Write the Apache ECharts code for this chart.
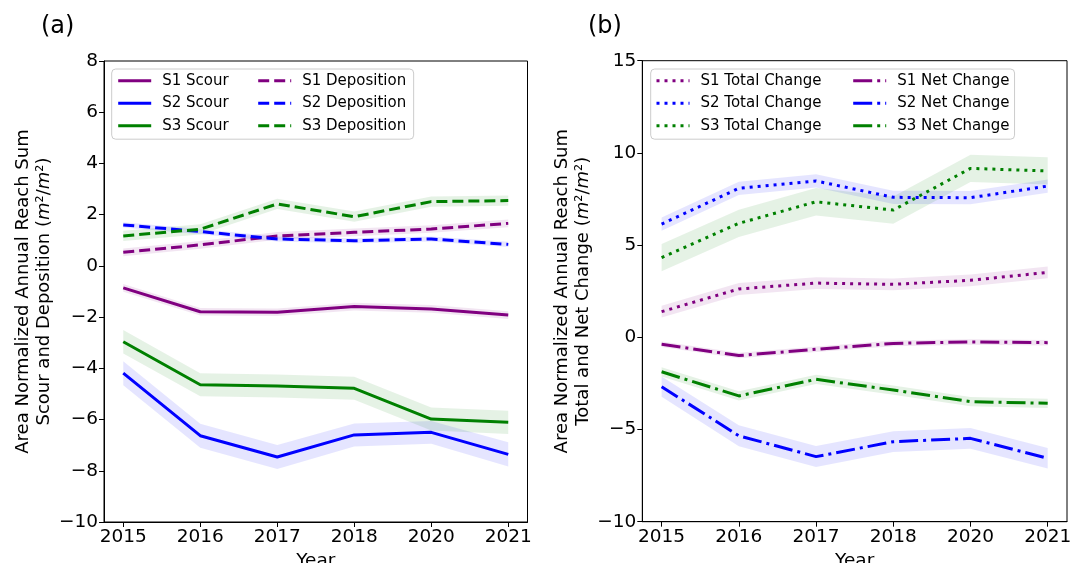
<!DOCTYPE html>
<html>
<head>
<meta charset="utf-8">
<script src="https://cdn.jsdelivr.net/npm/echarts@6/dist/echarts.min.js"></script>
<style>html,body{margin:0;padding:0;background:#fff;}#c{width:1070px;height:563px;}</style>
</head>
<body>
<div id="c"></div>
<script>
// ---- data ----
var years = ['2015', '2016', '2017', '2018', '2020', '2021'];

// panel (a): scour and deposition
var s1Scour = [-0.86, -1.79, -1.81, -1.59, -1.68, -1.92];
var s1ScourErr = [0.15, 0.15, 0.15, 0.15, 0.15, 0.15];
var s2Scour = [-4.19, -6.63, -7.46, -6.60, -6.50, -7.36];
var s2ScourErr = [0.47, 0.47, 0.47, 0.45, 0.44, 0.47];
var s3Scour = [-2.96, -4.64, -4.69, -4.78, -5.98, -6.11];
var s3ScourErr = [0.46, 0.45, 0.45, 0.45, 0.45, 0.45];
var s1Dep = [0.53, 0.82, 1.17, 1.31, 1.44, 1.66];
var s1DepErr = [0.15, 0.15, 0.15, 0.15, 0.15, 0.15];
var s2Dep = [1.60, 1.34, 1.05, 0.98, 1.05, 0.84];
var s2DepErr = [0.10, 0.10, 0.10, 0.10, 0.10, 0.10];
var s3Dep = [1.17, 1.43, 2.42, 1.92, 2.51, 2.55];
var s3DepErr = [0.20, 0.20, 0.20, 0.20, 0.20, 0.20];

// panel (b): total and net change
var s1Total = [1.39, 2.62, 2.94, 2.87, 3.09, 3.52];
var s1TotalErr = [0.32, 0.32, 0.32, 0.32, 0.32, 0.32];
var s2Total = [6.14, 8.08, 8.48, 7.59, 7.57, 8.20];
var s2TotalErr = [0.36, 0.36, 0.36, 0.36, 0.36, 0.36];
var s3Total = [4.32, 6.18, 7.35, 6.90, 9.16, 9.02];
var s3TotalErr = [0.74, 0.74, 0.74, 0.74, 0.74, 0.74];
var s1Net = [-0.38, -0.99, -0.65, -0.33, -0.25, -0.29];
var s1NetErr = [0.15, 0.15, 0.15, 0.15, 0.15, 0.15];
var s2Net = [-2.68, -5.34, -6.47, -5.66, -5.48, -6.56];
var s2NetErr = [0.55, 0.57, 0.57, 0.56, 0.56, 0.56];
var s3Net = [-1.87, -3.18, -2.28, -2.86, -3.49, -3.58];
var s3NetErr = [0.25, 0.25, 0.25, 0.25, 0.25, 0.25];

var yTicksA = [-10, 8, 2];
var yTicksB = [-10, 15, 5];

// ---- styling ----
var FONT = 'DejaVu Sans';
var PURPLE = '#800080', BLUE = '#0000ff', GREEN = '#008000';
var BAND = {};
BAND[PURPLE] = 'rgba(128,0,128,0.1)';
BAND[BLUE] = 'rgba(0,0,255,0.1)';
BAND[GREEN] = 'rgba(0,128,0,0.1)';
var DASH = [11, 5], DOT = [3, 5], DASHDOT = [19, 5, 3, 5];

function lineSeries(name, vals, color, dash, idx) {
  return {
    type: 'line', name: name, xAxisIndex: idx, yAxisIndex: idx,
    data: vals.map(function (v, i) { return [i, v]; }),
    symbol: 'none', z: 3, animation: false,
    lineStyle: { color: color, width: 3, type: dash, cap: 'butt' },
    itemStyle: { color: color }
  };
}
function bandSeries(vals, err, color, idx) {
  var lower = vals.map(function (v, i) { return v - err[i]; });
  var upper = vals.map(function (v, i) { return v + err[i]; });
  return {
    type: 'custom', xAxisIndex: idx, yAxisIndex: idx, silent: true, z: 1, animation: false,
    data: vals.map(function (v, i) { return [i, lower[i], upper[i]]; }),
    encode: { x: 0, y: [1, 2] },
    renderItem: function (params, api) {
      if (params.dataIndex !== 0) return null;
      var pts = [];
      for (var i = 0; i < upper.length; i++) pts.push(api.coord([i, upper[i]]));
      for (var j = lower.length - 1; j >= 0; j--) pts.push(api.coord([j, lower[j]]));
      return { type: 'polygon', shape: { points: pts }, style: { fill: BAND[color], stroke: null } };
    }
  };
}

function xAxisDef(idx) {
  return {
    type: 'value', gridIndex: idx, min: -0.25, max: 5.25,
    name: 'Year', nameLocation: 'middle', nameGap: 24,
    nameTextStyle: { fontFamily: FONT, fontSize: 18.5, color: '#000' },
    axisLine: { show: true, onZero: false, lineStyle: { color: '#000', width: 1 } },
    axisTick: { show: true, inside: false, length: 5, lineStyle: { color: '#000', width: 1 }, customValues: [0, 1, 2, 3, 4, 5] },
    axisLabel: {
      fontFamily: FONT, fontSize: 18.5, color: '#000', margin: 6,
      customValues: [0, 1, 2, 3, 4, 5],
      formatter: function (v) { return years[Math.round(v)]; }
    },
    splitLine: { show: false }
  };
}
function yAxisDef(idx, ticks, nameText) {
  return {
    type: 'value', gridIndex: idx, min: ticks[0], max: ticks[1], interval: ticks[2],
    name: nameText, nameLocation: 'middle', nameGap: 47,
    nameTextStyle: {
      fontFamily: FONT, fontSize: 18, color: '#000', lineHeight: 21, align: 'center',
      rich: { i: { fontFamily: FONT, fontSize: 18, fontStyle: 'italic', color: '#000', lineHeight: 21 } }
    },
    axisLine: { show: true, onZero: false, lineStyle: { color: '#000', width: 1 } },
    axisTick: { show: true, inside: false, length: 5, lineStyle: { color: '#000', width: 1 } },
    axisLabel: {
      fontFamily: FONT, fontSize: 18.5, color: '#000', margin: 6,
      formatter: function (v) { return String(v).replace('-', '\u2212'); }
    },
    splitLine: { show: false }
  };
}
function legendDef(names, left, top, padding, box) {
  var l = {
    orient: 'vertical', left: left, top: top, padding: padding,
    data: names, itemWidth: 33, itemHeight: 15, itemGap: 7.5,
    selectedMode: false, z: box ? 4 : 5,
    textStyle: { fontFamily: FONT, fontSize: 15, color: '#000', lineHeight: 15, padding: [0, 0, 0, 6] },
    lineStyle: { width: 3 },
    itemStyle: { opacity: 0 }
  };
  if (box) {
    l.backgroundColor = 'rgba(255,255,255,0.8)';
    l.borderColor = '#cccccc';
    l.borderWidth = 1;
    l.borderRadius = 4;
  }
  return l;
}

var option = {
  animation: false,
  backgroundColor: '#fff',
  title: [
    { text: '(a)', left: 41, top: 15, padding: 0, textStyle: { fontFamily: FONT, fontSize: 24, fontWeight: 'normal', color: '#000' } },
    { text: '(b)', left: 588, top: 15, padding: 0, textStyle: { fontFamily: FONT, fontSize: 24, fontWeight: 'normal', color: '#000' } }
  ],
  grid: [
    { left: 104, top: 61, width: 423.5, height: 461, show: true, borderColor: '#000', borderWidth: 1, backgroundColor: 'transparent', outerBoundsMode: 'none', containLabel: false },
    { left: 642.3, top: 60.7, width: 424.7, height: 461, show: true, borderColor: '#000', borderWidth: 1, backgroundColor: 'transparent', outerBoundsMode: 'none', containLabel: false }
  ],
  xAxis: [xAxisDef(0), xAxisDef(1)],
  yAxis: [
    yAxisDef(0, yTicksA, 'Area Normalized Annual Reach Sum\nScour and Deposition ({i|m}\u00b2/{i|m}\u00b2)'),
    yAxisDef(1, yTicksB, 'Area Normalized Annual Reach Sum\nTotal and Net Change ({i|m}\u00b2/{i|m}\u00b2)')
  ],
  legend: [
    legendDef(['S1 Scour', 'S2 Scour', 'S3 Scour'], 111.7, 69, [4.2, 185, 6, 5], true),
    legendDef(['S1 Deposition', 'S2 Deposition', 'S3 Deposition'], 256.7, 73.2, 0, false),
    legendDef(['S1 Total Change', 'S2 Total Change', 'S3 Total Change'], 650.7, 69, [4.2, 193, 6, 4.3], true),
    legendDef(['S1 Net Change', 'S2 Net Change', 'S3 Net Change'], 851.7, 73.2, 0, false)
  ],
  series: [
    bandSeries(s1Scour, s1ScourErr, PURPLE, 0),
    bandSeries(s2Scour, s2ScourErr, BLUE, 0),
    bandSeries(s3Scour, s3ScourErr, GREEN, 0),
    bandSeries(s1Dep, s1DepErr, PURPLE, 0),
    bandSeries(s2Dep, s2DepErr, BLUE, 0),
    bandSeries(s3Dep, s3DepErr, GREEN, 0),
    lineSeries('S1 Scour', s1Scour, PURPLE, 'solid', 0),
    lineSeries('S2 Scour', s2Scour, BLUE, 'solid', 0),
    lineSeries('S3 Scour', s3Scour, GREEN, 'solid', 0),
    lineSeries('S1 Deposition', s1Dep, PURPLE, DASH, 0),
    lineSeries('S2 Deposition', s2Dep, BLUE, DASH, 0),
    lineSeries('S3 Deposition', s3Dep, GREEN, DASH, 0),

    bandSeries(s1Total, s1TotalErr, PURPLE, 1),
    bandSeries(s2Total, s2TotalErr, BLUE, 1),
    bandSeries(s3Total, s3TotalErr, GREEN, 1),
    bandSeries(s1Net, s1NetErr, PURPLE, 1),
    bandSeries(s2Net, s2NetErr, BLUE, 1),
    bandSeries(s3Net, s3NetErr, GREEN, 1),
    lineSeries('S1 Total Change', s1Total, PURPLE, DOT, 1),
    lineSeries('S2 Total Change', s2Total, BLUE, DOT, 1),
    lineSeries('S3 Total Change', s3Total, GREEN, DOT, 1),
    lineSeries('S1 Net Change', s1Net, PURPLE, DASHDOT, 1),
    lineSeries('S2 Net Change', s2Net, BLUE, DASHDOT, 1),
    lineSeries('S3 Net Change', s3Net, GREEN, DASHDOT, 1)
  ]
};

var chart = echarts.init(document.getElementById('c'), null, { renderer: 'canvas' });
chart.setOption(option);
</script>
</body>
</html>
